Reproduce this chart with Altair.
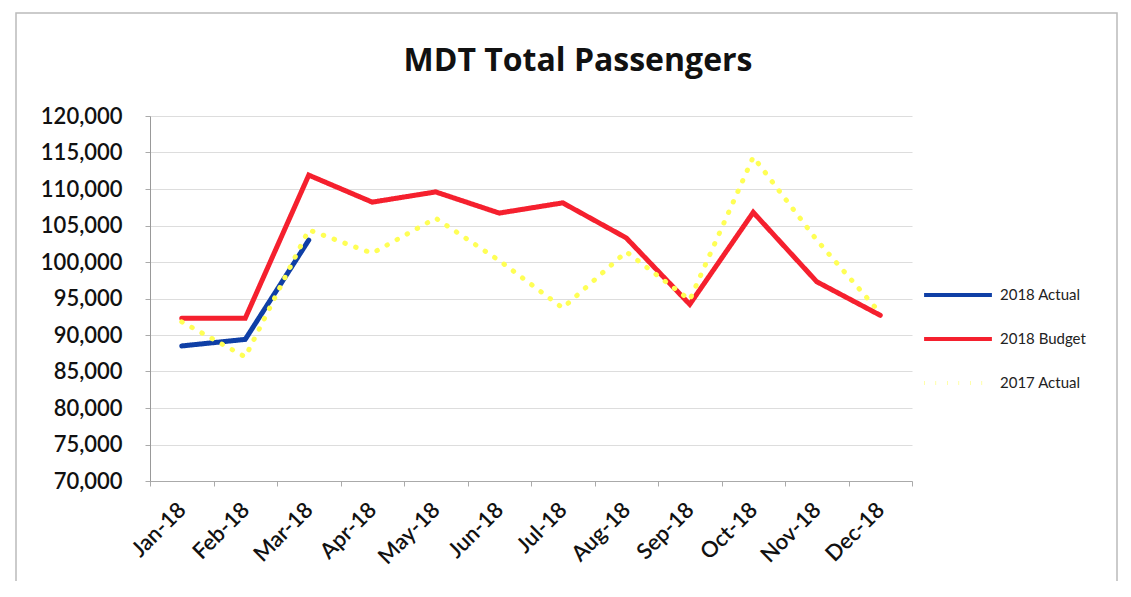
import altair as alt
import pandas as pd

months = ["Jan-18", "Feb-18", "Mar-18", "Apr-18", "May-18", "Jun-18",
          "Jul-18", "Aug-18", "Sep-18", "Oct-18", "Nov-18", "Dec-18"]
actual_2018 = [88500, 89400, 103000, None, None, None, None, None, None, None, None, None]
budget_2018 = [92300, 92300, 111900, 108200, 109600, 106700, 108100, 103300, 94200, 106800, 97300, 92700]
actual_2017 = [91800, 87000, 104400, 101200, 106000, 100200, 93700, 101400, 94800, 114400, 103000, 93000]

series_names = ["2018 Actual", "2018 Budget", "2017 Actual"]
series_colors = ["#0f3fa6", "#f5202e", "#ffff55"]
series_dash = [[1, 0], [1, 0], [0.5, 11]]
draw_order = {"2018 Actual": 0, "2018 Budget": 1, "2017 Actual": 2}

rows = []
for name, vals in zip(series_names, [actual_2018, budget_2018, actual_2017]):
    for m, v in zip(months, vals):
        if v is not None:
            rows.append({"month": m, "series": name, "value": v, "order": draw_order[name]})
df = pd.DataFrame(rows)

FONT = "Lato"

lines = alt.Chart(df).mark_line(strokeWidth=5, strokeCap="round").encode(
    x=alt.X("month:N", sort=months, title=None,
            scale=alt.Scale(paddingInner=0, paddingOuter=0),
            axis=alt.Axis(tickBand="extent", labelAngle=-45, labelAlign="right",
                          labelBaseline="middle", labelPadding=20, labelFontSize=22,
                          labelColor="#111", labelFont=FONT, labelFontWeight=600,
                          domainColor="#aaaaaa", tickColor="#aaaaaa", tickSize=5,
                          grid=False)),
    y=alt.Y("value:Q", title=None,
            scale=alt.Scale(domain=[70000, 120000], nice=False, zero=False),
            axis=alt.Axis(values=list(range(70000, 120001, 5000)), format=",.0f",
                          labelFontSize=22, labelColor="#111", labelFont=FONT,
                          labelFontWeight=600, labelPadding=23,
                          domainColor="#999999", tickColor="#aaaaaa", tickSize=5,
                          gridColor="#dddddd", gridWidth=1)),
    color=alt.Color("series:N", sort=series_names,
                    scale=alt.Scale(domain=series_names, range=series_colors),
                    legend=alt.Legend(title=None, orient="none", legendX=772, legendY=143,
                                      symbolType="stroke", symbolSize=4600,
                                      symbolStrokeWidth=4, labelFontSize=15,
                                      labelFont=FONT, labelColor="#222",
                                      rowPadding=-24, labelOffset=6)),
    strokeDash=alt.StrokeDash("series:N", sort=series_names,
                              scale=alt.Scale(domain=series_names, range=series_dash),
                              legend=None),
    order=alt.Order("order:Q"),
    detail="series:N",
)

frame = alt.Chart(pd.DataFrame({"k": [0]})).mark_rect(
    fill=None, stroke="#bbbbbb", strokeWidth=1.5
).encode(
    x=alt.value(-134), x2=alt.value(967), y=alt.value(-103), y2=alt.value(474)
)

chart = alt.layer(frame, lines).properties(
    width=762, height=365,
    autosize=alt.AutoSizeParams(type="none"),
    padding={"left": 142, "top": 108, "right": 210, "bottom": 100},
    title=alt.TitleParams("MDT Total Passengers", fontSize=32, font="Open Sans",
                          fontWeight="bold", color="#111", anchor="middle",
                          frame="group", dx=47, offset=-66),
    background="white",
).configure_view(stroke=None)

chart.save("out.html", embed_options={"renderer": "svg", "actions": False})
